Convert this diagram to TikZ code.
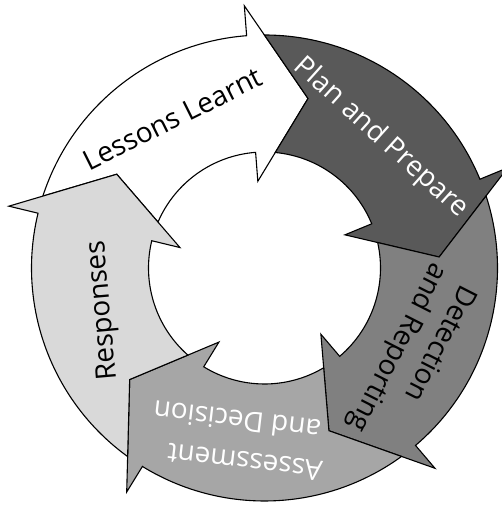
\documentclass[tikz,border=0pt]{standalone}
\usepackage{fontspec}
\setmainfont{Open Sans}
\begin{document}
\begin{tikzpicture}[x=1pt,y=1pt,
    seg/.style={draw=black,line width=1.1pt,line join=miter,fill=#1},
    lbl/.style={inner sep=0pt,font=\fontsize{28}{33}\selectfont},
  ]
\useasboundingbox (0,0) rectangle (501,506);
% ring geometry: outer/inner radius of the band, barb radii, tip radius
\def\Ro{233}\def\Ri{116}\def\Bo{263}\def\Bi{87}\def\Rm{175}
% one curved arrow of the cycle; #1 = angle of the head base, #2 = fill
\newcommand\cyclearrow[2]{%
  \pgfmathsetmacro\tb{#1}%
  \pgfmathsetmacro\tp{#1+72}%
  \filldraw[seg=#2]
    ({\tp-4.38}:\Ro) arc[start angle={\tp-4.38}, end angle=\tb, radius=\Ro]
    -- (\tb:\Bo) -- ({\tb-18.8}:\Rm) -- (\tb:\Bi) -- (\tb:\Ri)
    arc[start angle=\tb, end angle={\tp-9.73}, radius=\Ri]
    -- ({\tp-18.8}:\Rm) -- cycle;}
\begin{scope}[shift={(264.5,238)}]
  \cyclearrow{94.4}{white}
  \cyclearrow{22.4}{black!65}
  \cyclearrow{-49.6}{black!50}
  \cyclearrow{-121.6}{black!35}
  \cyclearrow{166.4}{black!15}
\end{scope}
% labels
\node[lbl,anchor=base,rotate=26.5] (lessons) at (177,378.4) {Lessons Learnt};
\node[lbl,anchor=base,rotate=-42,text=white] (plan) at (376,362.7) {Plan and Prepare};
\node[lbl,rotate=-117] (detect1) at (442.4,161.3) {Detection};
\node[lbl,rotate=-117] (detect2) at (397.4,159) {and Reporting};
\node[lbl,rotate=173.3,text=white] (assess1) at (245,44) {Assessment};
\node[lbl,rotate=173.3,text=white] (assess2) at (237,85) {and Decision};
\node[lbl,anchor=base,rotate=95] (responses) at (110,196) {Responses};
\end{tikzpicture}
\end{document}
